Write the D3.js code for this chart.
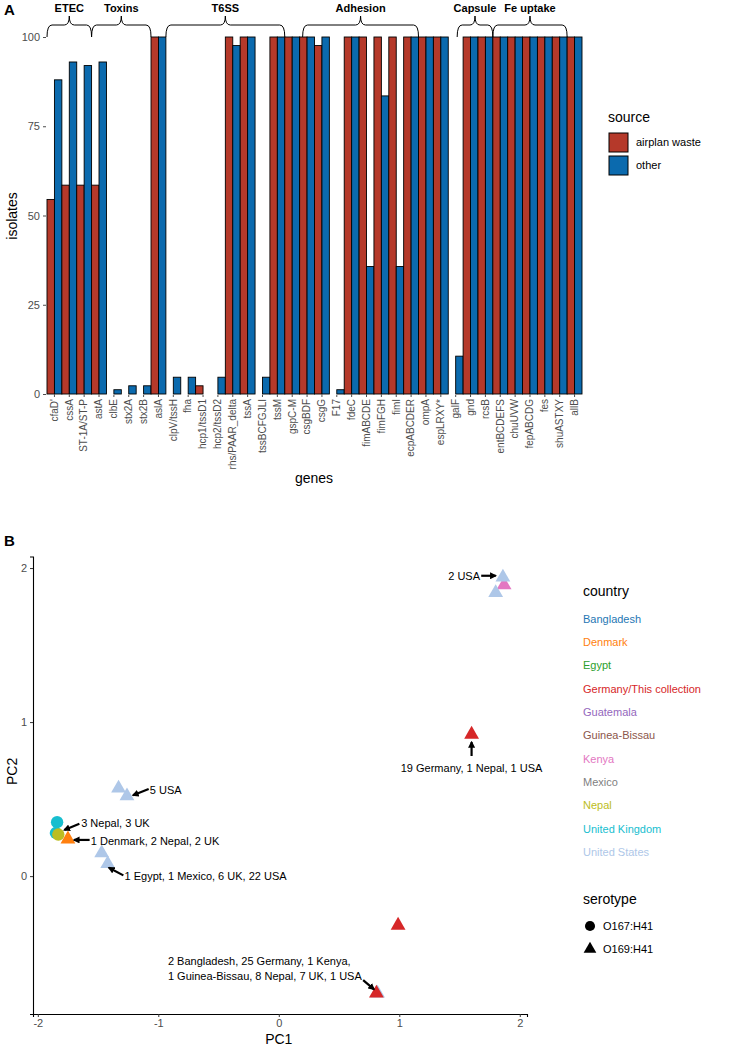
<!DOCTYPE html>
<html>
<head>
<meta charset="utf-8">
<style>
body { margin: 0; background: #fff; }
svg { font-family: "Liberation Sans", Arial, sans-serif; }
.tick-lab { fill: #4d4d4d; }
</style>
<script src="https://cdn.jsdelivr.net/npm/d3@7"></script>
</head>
<body>
<svg id="fig" width="729" height="1049"></svg>
<script>
// ---- panel A data ----
var genes = ["cfaD'", "cssA", "ST-1A/ST-P", "astA", "clbE", "stx2A", "stx2B", "aslA",
  "clpV/tssH", "fha", "hcp1/tssD1", "hcp2/tssD2", "rhs/PAAR_delta", "tssA", "tssBCFGJLI", "tssM",
  "gspC-M", "csgBDF", "csgG", "F17", "fdeC", "fimABCDE", "fimFGH", "fimI", "ecpABCDER", "ompA",
  "espLRXY*", "galF", "gnd", "rcsB", "entBCDEFS", "chuUVW", "fepABCDG", "fes", "shuASTXY", "allB"];
var airplaneWaste = [54.5, 58.5, 58.5, 58.5, 0, 0, 0, 100,
  0, 0, 2.3, 0, 100, 100, 0, 100,
  100, 100, 97.6, 0, 100, 100, 100, 100, 100, 100,
  100, 0, 100, 100, 100, 100, 100, 100, 100, 100];
var other = [88, 93, 92, 93, 1.2, 2.3, 2.3, 100,
  4.7, 4.7, 0, 4.7, 97.6, 100, 4.7, 100,
  100, 100, 100, 1.2, 100, 35.7, 83.5, 35.7, 100, 100,
  100, 10.6, 100, 100, 100, 100, 100, 100, 100, 100];
var sources = ["airplan waste", "other"];
var sourceColors = ["#b5392a", "#0b6aae"];
var yTicksA = [0, 25, 50, 75, 100];

// gene groups (start / end in gene units along the axis)
var groupNames = ["ETEC", "Toxins", "T6SS", "Adhesion", "Capsule", "Fe uptake"];
var groupStart = [0, 3, 8, 17.2, 27.6, 30];
var groupEnd = [3, 7, 16, 25, 30, 35];

// ---- panel B data ----
var countries = ["Bangladesh", "Denmark", "Egypt", "Germany/This collection", "Guatemala",
  "Guinea-Bissau", "Kenya", "Mexico", "Nepal", "United Kingdom", "United States"];
var countryColors = ["#1f77b4", "#ff7f0e", "#2ca02c", "#d62728", "#9467bd",
  "#8c564b", "#e377c2", "#7f7f7f", "#bcbd22", "#17becf", "#aec7e8"];
var serotypes = ["O167:H41", "O169:H41"];

var pc1 = [1.87, 1.86, 1.80, 1.60, -1.33, -1.26, -1.84, -1.85, -1.83, -1.75, -1.47, -1.42, 0.99, 0.82, 0.81];
var pc2 = [1.89, 1.94, 1.84, 0.92, 0.57, 0.52, 0.35, 0.28, 0.27, 0.24, 0.15, 0.08, -0.32, -0.76, -0.76];
var pointCountry = ["Kenya", "United States", "United States", "Germany/This collection",
  "United States", "United States", "United Kingdom", "United Kingdom", "Nepal", "Denmark",
  "United States", "United States", "Germany/This collection", "United States", "Germany/This collection"];
var pointSerotype = ["O169:H41", "O169:H41", "O169:H41", "O169:H41", "O169:H41", "O169:H41",
  "O167:H41", "O167:H41", "O167:H41", "O169:H41", "O169:H41", "O169:H41", "O169:H41", "O169:H41", "O169:H41"];
var pcTicks = [-2, -1, 0, 1, 2];

var noteText = ["2 USA", "19 Germany, 1 Nepal, 1 USA", "5 USA", "3 Nepal, 3 UK",
  "1 Denmark, 2 Nepal, 2 UK", "1 Egypt, 1 Mexico, 6 UK, 22 USA",
  "2 Bangladesh, 25 Germany, 1 Kenya,|1 Guinea-Bissau, 8 Nepal, 7 UK, 1 USA"];
var noteX = [1.67, 1.60, -1.07, -1.64, -1.56, -1.28, -0.92];
var noteY = [1.95, 0.70, 0.56, 0.345, 0.23, 0.0, -0.55];
var noteAnchor = ["end", "middle", "start", "start", "start", "start", "start"];
var arrowFrom = [[1.68, 1.95], [1.60, 0.78], [-1.08, 0.565], [-1.655, 0.34], [-1.57, 0.235], [-1.29, 0.005], [0.70, -0.675]];
var arrowTo = [[1.80, 1.95], [1.60, 0.87], [-1.21, 0.525], [-1.78, 0.30], [-1.70, 0.235], [-1.41, 0.055], [0.79, -0.735]];

var svg = d3.select("#fig");

// ================= panel A =================
var x = d3.scaleBand().domain(genes).range([47, 582]).padding(0);
var xs = d3.scaleBand().domain(sources).range([0, x.bandwidth()]);
var y = d3.scaleLinear().domain([0, 100]).range([394, 37]);
var colour = d3.scaleOrdinal().domain(sources).range(sourceColors);

svg.append("text").attr("x", 4).attr("y", 15)
  .style("font-weight", "bold").style("font-size", "15px").text("A");

var gA = svg.append("g");

var rows = [];
genes.forEach(function(g, i) {
  rows.push({gene: g, source: sources[0], value: airplaneWaste[i]});
  rows.push({gene: g, source: sources[1], value: other[i]});
});

gA.selectAll("rect.bar").data(rows).enter().append("rect")
  .attr("class", "bar")
  .attr("x", function(d) { return x(d.gene) + xs(d.source); })
  .attr("width", xs.bandwidth())
  .attr("y", function(d) { return y(d.value); })
  .attr("height", function(d) { return y(0) - y(d.value); })
  .attr("fill", function(d) { return colour(d.source); })
  .attr("stroke", "#000")
  .attr("stroke-width", 0.9);

// y axis (ticks only)
var yAxA = gA.append("g").attr("transform", "translate(46,0)")
  .call(d3.axisLeft(y).tickValues(yTicksA).tickSize(3).tickPadding(3));
yAxA.select(".domain").remove();
yAxA.selectAll("line").attr("stroke", "#4d4d4d");
yAxA.selectAll("text").attr("class", "tick-lab").style("font-size", "11px").style("font-family", "Liberation Sans, Arial, sans-serif");

var xAxA = gA.append("g").attr("transform", "translate(0,395)")
  .call(d3.axisBottom(x).tickSize(2).tickPadding(2));
xAxA.select(".domain").remove();
xAxA.selectAll("line").attr("stroke", "#4d4d4d");
xAxA.selectAll("text")
  .attr("class", "tick-lab")
  .style("font-size", "10px")
  .style("font-family", "Liberation Sans, Arial, sans-serif")
  .attr("text-anchor", "end")
  .attr("transform", "rotate(-90)")
  .attr("x", -4).attr("y", 0).attr("dy", "0.33em");

gA.append("text").attr("transform", "translate(17,216) rotate(-90)")
  .attr("text-anchor", "middle").style("font-size", "14px").text("isolates");
gA.append("text").attr("x", 314).attr("y", 483)
  .attr("text-anchor", "middle").style("font-size", "14px").text("genes");

// braces over gene groups
var gx = d3.scaleLinear().domain([0, genes.length]).range([47, 582]);
groupNames.forEach(function(name, i) {
  var x0 = gx(groupStart[i]), x1 = gx(groupEnd[i]), m = (x0 + x1) / 2;
  var yl = 25, ye = 37, yt = 16, r = 5;
  var p = d3.path();
  p.moveTo(x0, ye);
  p.quadraticCurveTo(x0, yl, x0 + r, yl);
  p.lineTo(m - r, yl);
  p.quadraticCurveTo(m, yl, m, yt);
  p.quadraticCurveTo(m, yl, m + r, yl);
  p.lineTo(x1 - r, yl);
  p.quadraticCurveTo(x1, yl, x1, ye);
  gA.append("path").attr("d", p.toString())
    .attr("fill", "none").attr("stroke", "#000").attr("stroke-width", 1);
  gA.append("text").attr("x", m).attr("y", 12)
    .attr("text-anchor", "middle").style("font-weight", "bold").style("font-size", "11px")
    .text(name);
});

// legend source
var legA = svg.append("g").attr("transform", "translate(608,0)");
legA.append("text").attr("x", 0).attr("y", 122).style("font-size", "14px").text("source");
sources.forEach(function(s, i) {
  legA.append("rect").attr("x", 1).attr("y", 133 + i * 23).attr("width", 19).attr("height", 19)
    .attr("fill", colour(s)).attr("stroke", "#000").attr("stroke-width", 1);
  legA.append("text").attr("x", 28).attr("y", 146 + i * 23).style("font-size", "11px").text(s);
});

// ================= panel B =================
var px = d3.scaleLinear().domain([-2.04, 2.06]).range([33, 527]);
var py = d3.scaleLinear().domain([-0.895, 2.075]).range([1014, 556.5]);
var ccol = d3.scaleOrdinal().domain(countries).range(countryColors);
var shape = d3.scaleOrdinal().domain(serotypes).range([d3.symbolCircle, d3.symbolTriangle]);

svg.append("text").attr("x", 4).attr("y", 546)
  .style("font-weight", "bold").style("font-size", "15px").text("B");

var gB = svg.append("g");

var xAxB = gB.append("g").attr("transform", "translate(0,1014)")
  .call(d3.axisBottom(px).tickValues(pcTicks).tickSize(3).tickPadding(2));
var yAxB = gB.append("g").attr("transform", "translate(33,0)")
  .call(d3.axisLeft(py).tickValues(pcTicks.filter(function(t) { return t >= 0; }))
    .tickFormat(d3.format("d")).tickSize(3).tickPadding(3));
[xAxB, yAxB].forEach(function(a) {
  a.select(".domain").attr("stroke", "#000").attr("stroke-width", 1.1);
  a.selectAll("line").attr("stroke", "#333");
  a.selectAll("text").attr("class", "tick-lab").style("font-size", "11px")
    .style("font-family", "Liberation Sans, Arial, sans-serif");
});
xAxB.selectAll("text").text(function(d) { return d < 0 ? "-" + Math.abs(d) : d; });

gB.append("text").attr("x", px(0)).attr("y", 1044)
  .attr("text-anchor", "middle").style("font-size", "14px").text("PC1");
gB.append("text").attr("transform", "translate(17," + py(0.68) + ") rotate(-90)")
  .attr("text-anchor", "middle").style("font-size", "14px").text("PC2");

// points
var pts = pc1.map(function(v, i) {
  return {pc1: v, pc2: pc2[i], country: pointCountry[i], serotype: pointSerotype[i]};
});
gB.selectAll("path.pt").data(pts).enter().append("path")
  .attr("class", "pt")
  .attr("d", function(d) { return d3.symbol().type(shape(d.serotype)).size(d.serotype === "O167:H41" ? 120 : 95)(); })
  .attr("transform", function(d) { return "translate(" + px(d.pc1) + "," + py(d.pc2) + ")"; })
  .attr("fill", function(d) { return ccol(d.country); });

// arrows + notes
svg.append("defs").append("marker")
  .attr("id", "head").attr("viewBox", "0 0 10 10").attr("refX", 8).attr("refY", 5)
  .attr("markerWidth", 7).attr("markerHeight", 7).attr("markerUnits", "userSpaceOnUse")
  .attr("orient", "auto")
  .append("path").attr("d", "M0,0 L10,5 L0,10 z").attr("fill", "#000");

arrowFrom.forEach(function(f, i) {
  gB.append("line")
    .attr("x1", px(f[0])).attr("y1", py(f[1]))
    .attr("x2", px(arrowTo[i][0])).attr("y2", py(arrowTo[i][1]))
    .attr("stroke", "#000").attr("stroke-width", 2.2)
    .attr("marker-end", "url(#head)");
});

noteText.forEach(function(t, i) {
  var lines = t.split("|");
  lines.forEach(function(l, j) {
    gB.append("text").attr("x", px(noteX[i])).attr("y", py(noteY[i]) + j * 15)
      .attr("dy", "0.35em").attr("text-anchor", noteAnchor[i])
      .style("font-size", "11px").text(l);
  });
});

// legend country
var legB = svg.append("g").attr("transform", "translate(583,0)");
legB.append("text").attr("x", 0).attr("y", 596).style("font-size", "14px").text("country");
countries.forEach(function(c, i) {
  legB.append("text").attr("x", 0).attr("y", 619 + i * 23.3).attr("dy", "0.35em")
    .style("font-size", "11px").attr("fill", ccol(c)).text(c);
});
legB.append("text").attr("x", 0).attr("y", 904).style("font-size", "14px").text("serotype");
serotypes.forEach(function(s, i) {
  legB.append("path")
    .attr("d", d3.symbol().type(shape(s)).size(s === "O167:H41" ? 80 : 70)())
    .attr("transform", "translate(7," + (926 + i * 23) + ")")
    .attr("fill", "#000");
  legB.append("text").attr("x", 20).attr("y", 926 + i * 23).attr("dy", "0.35em")
    .style("font-size", "11px").text(s);
});
</script>
</body>
</html>
